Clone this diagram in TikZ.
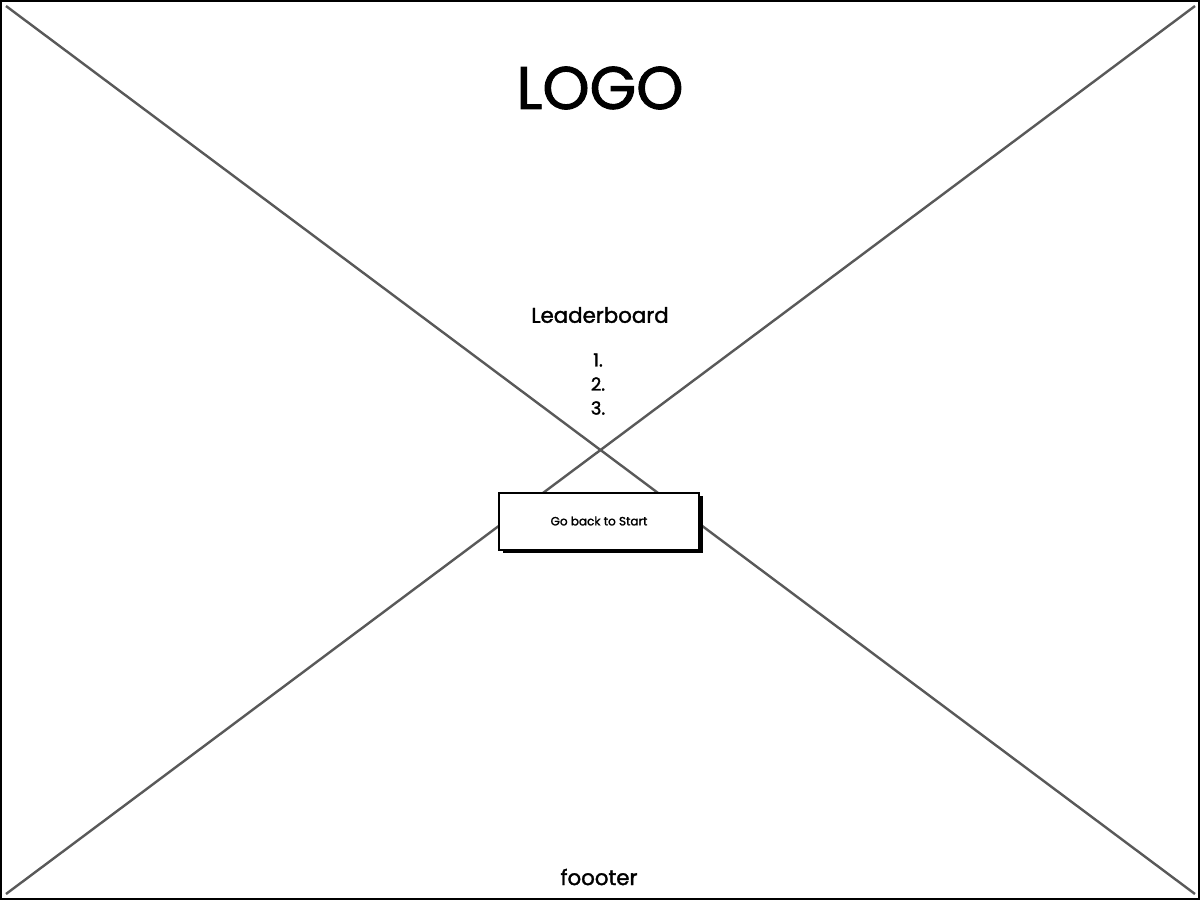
\documentclass[tikz,border=0pt]{standalone}
\usepackage{fontspec}
\setmainfont{Poppins}[RawFeature={embolden=1.6}]
\begin{document}
\begin{tikzpicture}[x=0.75pt,y=-0.75pt,
  frame/.style={draw=black,line width=1.5pt},
  cross/.style={draw=black!65,line width=1.8pt},
  btn/.style={draw=black,fill=white,line width=1.5pt,minimum width=150pt,minimum height=42.75pt,inner sep=0pt},
  shade/.style={fill=black,minimum width=150pt,minimum height=42.75pt,inner sep=0pt},
  txt/.style={inner sep=0pt,text=black}]
\useasboundingbox (0,0) rectangle (1200,900);
\fill[white] (0,0) rectangle (1200,900);
% placeholder cross
\coordinate (tl) at (6,6);
\coordinate (tr) at (1195,6);
\coordinate (bl) at (6,894);
\coordinate (br) at (1195,894);
\draw[cross] (tl) -- (br);
\draw[cross] (tr) -- (bl);
\draw[frame] (1,1) rectangle (1199,898.5);
% texts
\node[txt,font=\fontsize{45}{50}\selectfont] (logo) at (600,88) {LOGO};
\node[txt,font=\fontsize{16}{19}\selectfont] (lb) at (600,315) {Leaderboard};
\node[txt,font=\fontsize{13.5}{18}\selectfont] (n1) at (598,360) {1.};
\node[txt,font=\fontsize{13.5}{18}\selectfont] (n2) at (598,384) {2.};
\node[txt,font=\fontsize{13.5}{18}\selectfont] (n3) at (598,408) {3.};
% button with shadow
\node[shade] (bs) at (602.5,524) {};
\node[btn] (btn) at (599,521) {\fontsize{9}{11}\selectfont Go back to Start};
\node[txt,font=\fontsize{16}{19}\selectfont] (foot) at (599,877) {foooter};
\end{tikzpicture}
\end{document}
